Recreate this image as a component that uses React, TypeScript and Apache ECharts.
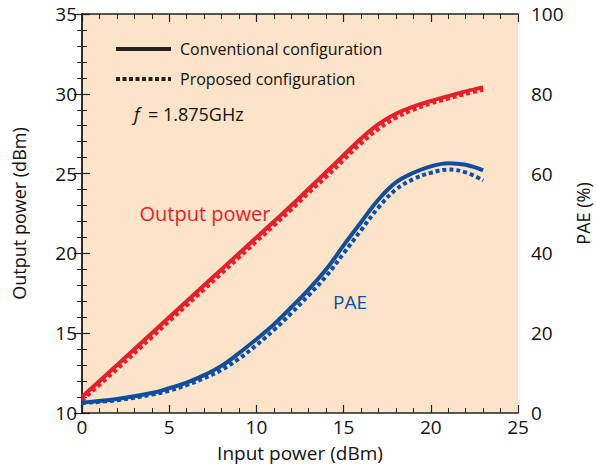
import React, { useEffect, useRef } from "react";
import * as echarts from "echarts";

const inputPower = [0, 2, 4, 5, 6, 7, 8, 9, 10, 11, 12, 13, 14, 15, 16, 17, 18, 19, 20, 21, 22, 23];
const poutConventional = [11.0, 13.0, 15.0, 16.0, 17.0, 18.0, 19.0, 20.0, 21.0, 22.0, 23.0, 24.05, 25.1, 26.15, 27.2, 28.1, 28.75, 29.2, 29.55, 29.85, 30.15, 30.4];
const poutProposed = [10.8, 12.75, 14.75, 15.75, 16.75, 17.75, 18.75, 19.75, 20.75, 21.75, 22.75, 23.8, 24.8, 25.85, 26.9, 27.8, 28.5, 29.0, 29.4, 29.7, 30.0, 30.25];
const paeConventional = [2.6, 3.5, 5.0, 6.2, 7.6, 9.5, 11.8, 15.0, 18.5, 22.2, 26.5, 31.0, 36.0, 42.0, 47.8, 53.5, 57.8, 60.2, 61.8, 62.6, 62.2, 60.8];
const paeProposed = [2.5, 3.2, 4.6, 5.6, 7.0, 8.7, 10.8, 13.6, 17.0, 20.8, 25.0, 29.5, 34.3, 40.0, 45.8, 51.5, 56.0, 58.6, 60.2, 61.0, 60.3, 58.3];

const leftTicks = [10, 15, 20, 25, 30, 35];
const rightTicks = [0, 20, 40, 60, 80, 100];
const xTicks = [0, 5, 10, 15, 20, 25];

const RED = "#EC1C2A";
const BLUE = "#0B4EA2";
const BG = "#FDE3C7";
const FONT = "'Open Sans', 'Noto Sans', sans-serif";

function pairs(xs: number[], ys: number[]) {
  return xs.map((x, i) => [x, ys[i]]);
}

export default function App() {
  const ref = useRef<HTMLDivElement>(null);
  useEffect(() => {
    if (!ref.current) return;
    const chart = echarts.init(ref.current, undefined, { renderer: "svg" });
    const axisLine = { show: true, lineStyle: { color: "#222", width: 1.5 } };
    const axisTick = { show: true, inside: true, length: 8, lineStyle: { color: "#222", width: 1.2 } };
    const minorTick = { show: true, splitNumber: 5, length: 5, lineStyle: { color: "#222", width: 1 } };
    const label = { fontFamily: FONT, fontSize: 19, color: "#111" };
    chart.setOption({
      animation: false,
      textStyle: { fontFamily: FONT },
      grid: {
        left: 82,
        right: 78,
        top: 14,
        bottom: 52,
        containLabel: false,
        outerBoundsMode: "none",
        show: true,
        backgroundColor: BG,
        borderWidth: 0,
      } as any,
      xAxis: [
        {
          type: "value",
          min: xTicks[0],
          max: xTicks[xTicks.length - 1],
          interval: 5,
          position: "bottom",
          axisLine,
          axisTick,
          minorTick,
          splitLine: { show: false },
          axisLabel: { ...label, margin: 4 },
          name: "Input power (dBm)",
          nameLocation: "middle",
          nameGap: 30,
          nameTextStyle: { ...label, fontSize: 19 },
        },
        {
          type: "value",
          min: xTicks[0],
          max: xTicks[xTicks.length - 1],
          interval: 5,
          position: "top",
          axisLine,
          axisTick,
          minorTick,
          splitLine: { show: false },
          axisLabel: { show: false },
        },
      ],
      yAxis: [
        {
          type: "value",
          min: leftTicks[0],
          max: leftTicks[leftTicks.length - 1],
          interval: 5,
          position: "left",
          axisLine,
          axisTick,
          minorTick,
          splitLine: { show: false },
          axisLabel: { ...label, margin: 5 },
          name: "Output power (dBm)",
          nameLocation: "middle",
          nameGap: 54,
          nameTextStyle: { ...label, fontSize: 18 },
        },
        {
          type: "value",
          min: rightTicks[0],
          max: rightTicks[rightTicks.length - 1],
          interval: 20,
          position: "right",
          axisLine,
          axisTick,
          minorTick,
          splitLine: { show: false },
          axisLabel: { ...label, margin: 13 },
          name: "PAE (%)",
          nameLocation: "middle",
          nameGap: 55,
          nameRotate: 90,
          nameTextStyle: { ...label, fontSize: 18 },
        },
      ],
      series: [
        {
          type: "line",
          name: "Pout conventional",
          data: pairs(inputPower, poutConventional),
          smooth: 0.4,
          showSymbol: false,
          lineStyle: { color: RED, width: 4 },
          xAxisIndex: 0,
          yAxisIndex: 0,
        },
        {
          type: "line",
          name: "Pout proposed",
          data: pairs(inputPower, poutProposed),
          smooth: 0.4,
          showSymbol: false,
          lineStyle: { color: RED, width: 4, type: [4, 3] },
          xAxisIndex: 0,
          yAxisIndex: 0,
        },
        {
          type: "line",
          name: "PAE conventional",
          data: pairs(inputPower, paeConventional),
          smooth: 0.4,
          showSymbol: false,
          lineStyle: { color: BLUE, width: 4 },
          xAxisIndex: 0,
          yAxisIndex: 1,
        },
        {
          type: "line",
          name: "PAE proposed",
          data: pairs(inputPower, paeProposed),
          smooth: 0.4,
          showSymbol: false,
          lineStyle: { color: BLUE, width: 4, type: [4, 3] },
          xAxisIndex: 0,
          yAxisIndex: 1,
        },
      ],
      graphic: [
        { type: "line", shape: { x1: 116, y1: 49, x2: 171, y2: 49 }, style: { stroke: "#222", lineWidth: 4 } },
        { type: "line", shape: { x1: 116, y1: 79, x2: 171, y2: 79 }, style: { stroke: "#222", lineWidth: 4, lineDash: [4, 2.5] } },
        { type: "text", x: 180, y: 49, style: { text: "Conventional configuration", font: `16px ${FONT}`, fill: "#111", verticalAlign: "middle" } },
        { type: "text", x: 180, y: 79, style: { text: "Proposed configuration", font: `16px ${FONT}`, fill: "#111", verticalAlign: "middle" } },
        { type: "text", x: 134, y: 114, style: { text: "f", font: `italic 18px ${FONT}`, fill: "#111", verticalAlign: "middle" } },
        { type: "text", x: 148, y: 114, style: { text: "= 1.875GHz", font: `18px ${FONT}`, fill: "#111", verticalAlign: "middle" } },
        { type: "text", x: 205, y: 213, style: { text: "Output power", font: `20px ${FONT}`, fill: RED, align: "center", verticalAlign: "middle" } },
        { type: "text", x: 350, y: 302, style: { text: "PAE", font: `19px ${FONT}`, fill: BLUE, align: "center", verticalAlign: "middle" } },
      ],
    });
    return () => chart.dispose();
  }, []);
  return <div ref={ref} style={{ width: 596, height: 465, position: "absolute", left: 0, top: 0 }} />;
}
